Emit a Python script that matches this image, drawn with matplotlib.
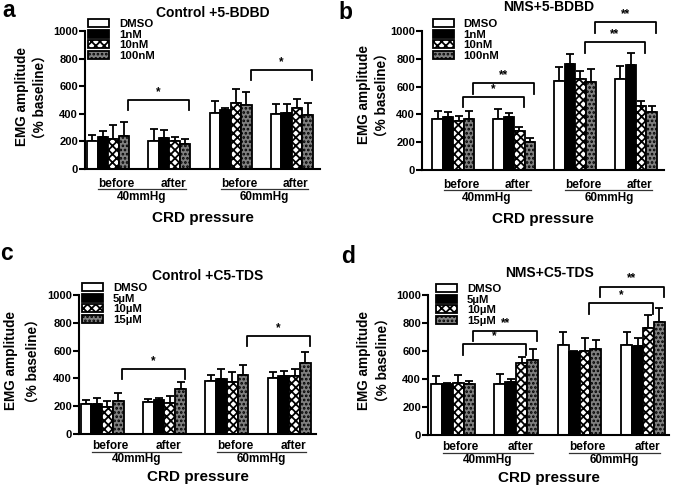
import numpy as np
import matplotlib
matplotlib.use('Agg')
import matplotlib.pyplot as plt
from matplotlib.transforms import offset_copy

plt.rcParams['font.family'] = ['Liberation Sans', 'Noto Sans CJK SC', 'DejaVu Sans']
plt.rcParams['font.weight'] = 'bold'
plt.rcParams['hatch.linewidth'] = 1.3

# groups: 40mmHg before, 40mmHg after, 60mmHg before, 60mmHg after
groups = ['before', 'after', 'before', 'after']
pressures = ['40mmHg', '60mmHg']

labels_bdbd = ['DMSO', '1nM', '10nM', '100nM']
labels_tds = ['DMSO', '5\u00b5M', '10\u00b5M', '15\u00b5M']

# panel a: Control + 5-BDBD (rows = series, cols = groups)
a_mean = [[200, 200, 405, 400],
          [230, 225, 430, 405],
          [220, 200, 480, 445],
          [240, 183, 463, 388]]
a_err = [[48, 89, 91, 70],
         [45, 60, 12, 65],
         [96, 30, 100, 60],
         [97, 34, 97, 88]]
a_sig = [(3, 0, 1, 500, '*'), (3, 2, 3, 718, '*')]

# panel b: NMS + 5-BDBD
b_mean = [[364, 367, 643, 652],
          [379, 379, 760, 755],
          [355, 280, 652, 460],
          [364, 204, 631, 415]]
b_err = [[60, 69, 100, 96],
         [36, 33, 72, 84],
         [33, 32, 63, 39],
         [60, 24, 93, 45]]
b_sig = [(2, 0, 1, 525, '*'), (3, 0, 1, 623, '**'),
         (2, 2, 3, 918, '**'), (3, 2, 3, 1062, '**')]

# panel c: Control + C5-TDS
c_mean = [[215, 230, 383, 400],
          [218, 244, 395, 419],
          [191, 222, 371, 414],
          [239, 325, 426, 510]]
c_err = [[31, 21, 43, 47],
         [40, 14, 74, 31],
         [48, 48, 72, 55],
         [55, 48, 67, 83]]
c_sig = [(3, 0, 1, 469, '*'), (3, 2, 3, 706, '*')]

# panel d: NMS + C5-TDS
d_mean = [[364, 364, 643, 643],
          [362, 381, 590, 638],
          [374, 512, 600, 762],
          [362, 536, 614, 810]]
d_err = [[60, 69, 95, 95],
         [7, 17, 10, 52],
         [55, 48, 95, 95],
         [26, 76, 65, 100]]
d_sig = [(2, 0, 1, 650, '*'), (3, 0, 1, 743, '**'),
         (2, 2, 3, 940, '*'), (3, 2, 3, 1060, '**')]

W, H = 676, 490
fig = plt.figure(figsize=(W / 100, H / 100), dpi=100)
PT = 72 / 100  # points per pixel


def rect(l, r, t, b):
    return [l / W, 1 - b / H, (r - l) / W, (b - t) / H]


bw = 0.172
offs = (np.arange(4) - 1.5) * bw


def panel(box, xlim, mean, err, labels, sig, title, letter, tpos, lpos, legpos,
          ylab, xoff):
    ax = fig.add_axes(rect(*box))
    x = np.arange(len(groups))
    handles = []
    for i in range(4):
        xs = x + offs[i]
        m = np.array(mean[i])
        e = np.array(err[i])
        ax.errorbar(xs, m, yerr=[np.zeros_like(e), e], fmt='none', ecolor='k',
                    elinewidth=1.3, capsize=3, capthick=1.3, zorder=1)
        if i == 0:
            h = ax.bar(xs, m, bw, color='white', edgecolor='k', lw=1.3, zorder=2)
        elif i == 1:
            h = ax.bar(xs, m, bw, color='black', edgecolor='k', lw=1.3, zorder=2)
        elif i == 2:
            h = ax.bar(xs, m, bw, color='white', edgecolor='k', hatch='xxxx', lw=1.3, zorder=2)
        else:
            h = ax.bar(xs, m, bw, color='#808080', edgecolor='k', hatch='....', lw=1.3, zorder=2)
        handles.append(h)

    ax.set_xlim(*xlim)
    ax.set_ylim(0, 1000)
    ax.set_yticks(np.arange(0, 1001, 200))
    ax.set_xticks([])
    for s in ['top', 'right']:
        ax.spines[s].set_visible(False)
    for s in ['left', 'bottom']:
        ax.spines[s].set_linewidth(1.5)
    ax.tick_params(axis='y', width=1.5, length=4, labelsize=8, pad=1)

    # significance brackets
    for s, g0, g1, y, txt in sig:
        x0 = g0 + offs[s] + 0.4 * bw
        x1 = g1 + offs[s] + 0.4 * bw
        ax.plot([x0, x0, x1, x1], [y - 75, y, y, y - 75], color='k', lw=1.3,
                clip_on=False, zorder=3)
        ax.text((x0 + x1) / 2, y + 15, txt, ha='center', va='bottom',
                fontsize=8.5, clip_on=False)

    # x labels (offsets in px below the axis)
    xt = ax.get_xaxis_transform()
    d_grp, d_line, d_pr, d_crd = xoff
    for p in range(2):
        x0 = 2 * p - 0.16
        x1 = 2 * p + 1 + 0.27
        ax.text(x0, 0, groups[2 * p], ha='left', va='baseline', fontsize=8.5,
                transform=offset_copy(xt, fig, y=-d_grp * PT, units='points'))
        ax.text(x1, 0, groups[2 * p + 1], ha='right', va='baseline', fontsize=8.5,
                transform=offset_copy(xt, fig, y=-d_grp * PT, units='points'))
        ax.plot([x0, x1], [0, 0], color='#333333', lw=0.9, clip_on=False,
                transform=offset_copy(xt, fig, y=-d_line * PT, units='points'))
        ax.text((x0 + x1) / 2, 0, pressures[p], ha='center', va='baseline', fontsize=8.5,
                transform=offset_copy(xt, fig, y=-d_pr * PT, units='points'))
    ax.text(0.5, 0, 'CRD pressure', ha='center', va='baseline', fontsize=11,
            transform=offset_copy(ax.transAxes, fig, y=-d_crd * PT, units='points'))

    # y label (two lines)
    fig.text(ylab[0] / W, 1 - ylab[2] / H, 'EMG amplitude', rotation=90,
             ha='center', va='center', fontsize=9.8)
    fig.text(ylab[1] / W, 1 - ylab[2] / H, '\uff08% baseline\uff09', rotation=90,
             ha='center', va='center', fontsize=9.8)

    fig.text(tpos[0] / W, 1 - tpos[1] / H, title, ha='center', va='baseline', fontsize=10)
    fig.text(lpos[0] / W, 1 - lpos[1] / H, letter, ha='left', va='baseline', fontsize=16.5)

    ax.legend(handles, labels, loc='upper left', frameon=False, fontsize=8.2,
              bbox_to_anchor=(legpos[0] / W, 1 - legpos[1] / H),
              bbox_transform=fig.transFigure, borderpad=0, borderaxespad=0,
              handlelength=1.8, handleheight=0.7, labelspacing=0.05,
              handletextpad=0.9)
    return ax


top_off = (18, 20, 31, 53)
bot_off = (15, 17.5, 28, 47)

panel((85, 320, 31, 169), (-0.377, 3.46), a_mean, a_err, labels_bdbd, a_sig,
      'Control +5-BDBD', 'a', (213, 17), (2, 17), (88, 19), (22, 41, 97), top_off)
panel((422, 664, 31, 170), (-0.514, 3.46), b_mean, b_err, labels_bdbd, b_sig,
      'NMS+5-BDBD', 'b', (549, 11), (338, 19), (433, 19), (364, 383, 95), top_off)
panel((79, 316, 295, 434), (-0.37, 3.43), c_mean, c_err, labels_tds, c_sig,
      'Control +C5-TDS', 'c', (208, 280), (0, 260), (82, 283), (11, 34, 361), bot_off)
panel((428, 669, 295, 435), (-0.39, 3.41), d_mean, d_err, labels_tds, d_sig,
      'NMS+C5-TDS', 'd', (549, 277), (341, 263), (436, 284), (364, 384, 360), bot_off)

fig.savefig('out.png', dpi=100)
